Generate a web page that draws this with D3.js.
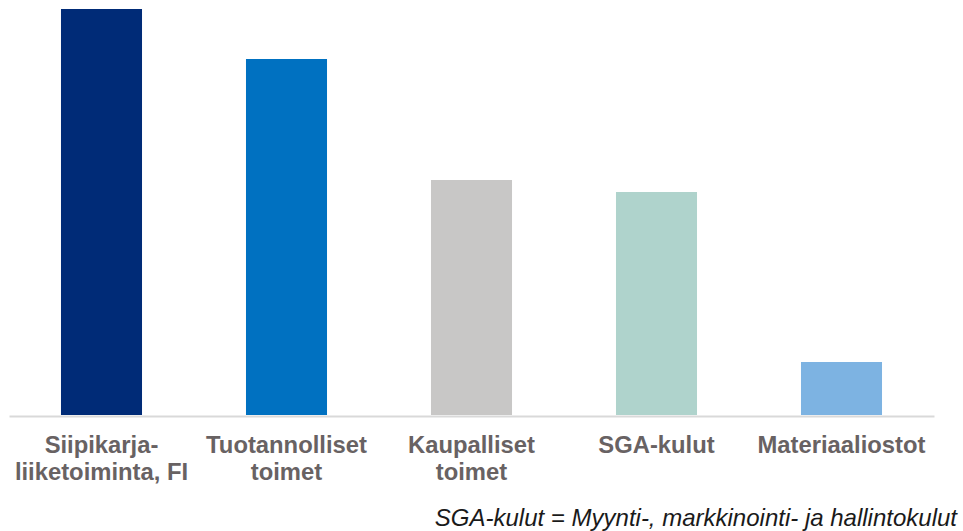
<!DOCTYPE html>
<html>
<head>
	<meta charset="utf-8">
	<script src="https://cdn.jsdelivr.net/npm/d3@7"></script>
	<style>
		body { margin: 0; background: #fff; }
		.axis text {
			font-family: "Liberation Sans", Arial, sans-serif;
			font-size: 23.8px;
			font-weight: bold;
			fill: #686263;
		}
		.note {
			font-family: "Liberation Sans", Arial, sans-serif;
			font-size: 24px;
			font-style: italic;
			fill: #1a1a1a;
		}
	</style>
</head>
<body>
	<svg width="963" height="531"></svg>
	<script>
		// categories (split into label lines) and bar values
		var categories = ['Siipikarja-liiketoiminta, FI', 'Tuotannolliset toimet', 'Kaupalliset toimet', 'SGA-kulut', 'Materiaaliostot'];
		var labelLines = [
			['Siipikarja-', 'liiketoiminta, FI'],
			['Tuotannolliset', 'toimet'],
			['Kaupalliset', 'toimet'],
			['SGA-kulut'],
			['Materiaaliostot']
		];
		var values = [40.6, 35.6, 23.5, 22.3, 5.3];
		var colors = ['#002B77', '#0071C1', '#C8C7C6', '#AFD3CC', '#7DB3E2'];

		var svg = d3.select('svg');
		var baseY = 415;

		var x = d3.scaleBand()
			.domain(categories)
			.range([9, 934])
			.paddingInner(0.562)
			.paddingOuter(0.281);

		var y = d3.scaleLinear()
			.domain([0, 40.6])
			.range([baseY, 9]);

		// bars
		svg.append('g')
			.selectAll('rect')
			.data(values)
			.enter()
			.append('rect')
			.attr('x', function(d, i) { return x(categories[i]); })
			.attr('y', function(d) { return y(d); })
			.attr('width', x.bandwidth())
			.attr('height', function(d) { return baseY - y(d); })
			.attr('fill', function(d, i) { return colors[i]; });

		// category axis
		var axis = svg.append('g')
			.attr('class', 'axis')
			.attr('transform', 'translate(0,' + (baseY + 1) + ')')
			.call(d3.axisBottom(x).tickSize(0).tickSizeOuter(0));

		axis.select('.domain')
			.attr('stroke', '#D9D9D9')
			.attr('stroke-width', 2);

		axis.selectAll('.tick text')
			.attr('y', 37)
			.attr('dy', 0)
			.text(null)
			.each(function(d, i) {
				var t = d3.select(this);
				labelLines[i].forEach(function(line, j) {
					t.append('tspan')
						.attr('x', 0)
						.attr('dy', j === 0 ? 0 : 27.3)
						.text(line);
				});
			});

		// footnote
		svg.append('text')
			.attr('class', 'note')
			.attr('x', 957)
			.attr('y', 526)
			.attr('text-anchor', 'end')
			.text('SGA-kulut = Myynti-, markkinointi- ja hallintokulut');
	</script>
</body>
</html>
